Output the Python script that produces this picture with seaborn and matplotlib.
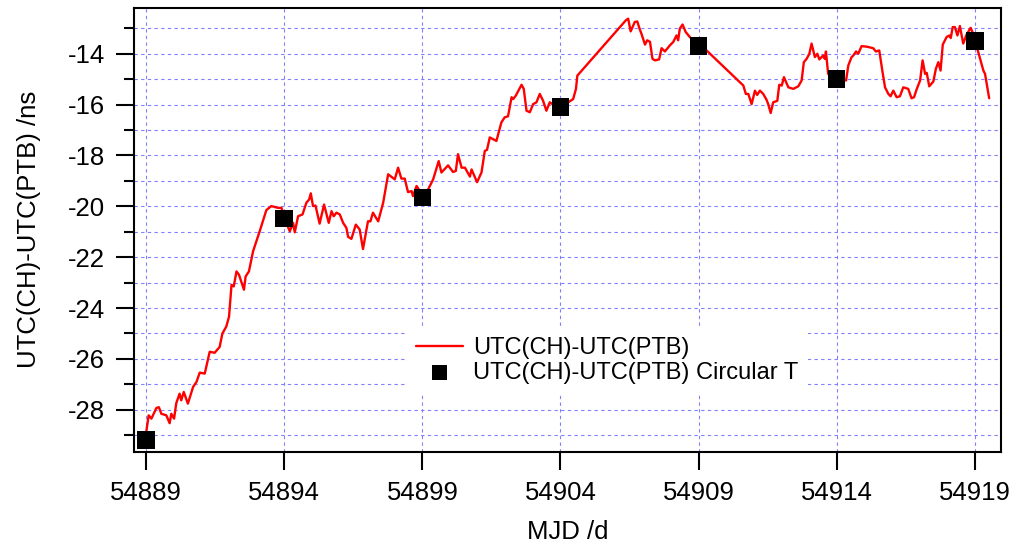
import seaborn as sns
import matplotlib.pyplot as plt
import pandas as pd

# UTC(CH)-UTC(PTB) continuous comparison (MJD, ns)
mjd = [54889.00, 54889.09, 54889.19, 54889.37, 54889.46, 54889.55, 54889.73, 54889.85, 54889.91, 54890.01,
       54890.09, 54890.21, 54890.27, 54890.36, 54890.51, 54890.70, 54890.82, 54890.94, 54891.12, 54891.30,
       54891.48, 54891.66, 54891.76, 54891.90, 54892.00, 54892.09, 54892.17, 54892.27, 54892.36, 54892.54,
       54892.60, 54892.72, 54892.87, 54893.11, 54893.35, 54893.53, 54893.77, 54893.90, 54893.95, 54894.05,
       54894.20, 54894.32, 54894.38, 54894.50, 54894.66, 54894.80, 54894.90, 54894.96, 54895.04, 54895.13,
       54895.28, 54895.44, 54895.61, 54895.71, 54895.79, 54895.89, 54896.01, 54896.13, 54896.25, 54896.31,
       54896.43, 54896.59, 54896.73, 54896.85, 54897.03, 54897.12, 54897.21, 54897.40, 54897.58, 54897.76,
       54898.00, 54898.12, 54898.24, 54898.36, 54898.48, 54898.61, 54898.66, 54898.79, 54898.91, 54899.01,
       54899.21, 54899.39, 54899.59, 54899.69, 54899.93, 54900.11, 54900.21, 54900.29, 54900.42, 54900.54,
       54900.72, 54900.78, 54900.98, 54901.14, 54901.26, 54901.34, 54901.44, 54901.68, 54901.86, 54901.98,
       54902.10, 54902.23, 54902.29, 54902.38, 54902.59, 54902.67, 54902.77, 54902.89, 54903.01, 54903.13,
       54903.25, 54903.37, 54903.49, 54903.61, 54903.80, 54904.28, 54904.46, 54904.56, 54904.61, 54906.37,
       54906.45, 54906.54, 54906.69, 54906.78, 54906.87, 54906.93, 54907.06, 54907.14, 54907.24, 54907.33,
       54907.42, 54907.57, 54907.66, 54907.78, 54907.96, 54908.08, 54908.20, 54908.26, 54908.32, 54908.42,
       54908.53, 54908.68, 54909.00, 54909.29, 54910.62, 54910.71, 54910.80, 54910.92, 54911.04, 54911.12,
       54911.22, 54911.34, 54911.46, 54911.52, 54911.61, 54911.70, 54911.85, 54911.92, 54912.01, 54912.09,
       54912.25, 54912.43, 54912.61, 54912.73, 54912.81, 54912.91, 54913.01, 54913.09, 54913.21, 54913.30,
       54913.37, 54913.51, 54913.57, 54913.61, 54913.69, 54914.00, 54914.34, 54914.42, 54914.54, 54914.60,
       54914.70, 54914.78, 54914.90, 54915.08, 54915.32, 54915.42, 54915.54, 54915.66, 54915.75, 54915.87,
       54915.95, 54916.05, 54916.17, 54916.29, 54916.41, 54916.59, 54916.71, 54916.80, 54916.90, 54917.02,
       54917.11, 54917.20, 54917.26, 54917.35, 54917.50, 54917.59, 54917.68, 54917.76, 54917.84, 54917.98,
       54918.08, 54918.13, 54918.20, 54918.28, 54918.37, 54918.46, 54918.58, 54918.70, 54918.85, 54918.94,
       54919.16, 54919.31, 54919.37, 54919.52]
diff_ns = [-28.90, -28.22, -28.35, -27.93, -27.90, -28.16, -28.22, -28.53, -28.16, -28.35,
           -27.74, -27.37, -27.63, -27.30, -27.76, -27.10, -26.91, -26.54, -26.58, -25.72,
           -25.76, -25.53, -25.00, -24.73, -24.34, -23.09, -23.15, -22.56, -22.69, -23.28,
           -22.76, -22.56, -21.77, -20.98, -20.15, -19.99, -20.06, -20.06, -20.25, -20.60,
           -20.98, -20.65, -21.02, -20.39, -20.32, -19.86, -19.73, -19.49, -19.99, -19.97,
           -20.68, -19.93, -20.65, -20.19, -20.39, -20.25, -20.32, -20.65, -20.85, -21.20,
           -21.28, -20.72, -20.91, -21.68, -20.59, -20.59, -20.25, -20.59, -19.86, -18.74,
           -18.94, -18.48, -18.91, -18.91, -19.44, -19.40, -19.60, -19.20, -19.40, -19.70,
           -19.33, -18.94, -18.22, -18.67, -18.39, -18.65, -18.61, -17.95, -18.48, -18.48,
           -18.83, -18.55, -19.05, -18.67, -17.82, -17.78, -17.29, -17.43, -16.70, -16.50,
           -16.46, -15.71, -15.78, -15.65, -15.22, -15.38, -16.24, -16.30, -15.98, -15.91,
           -15.58, -15.85, -16.24, -15.91, -16.05, -15.91, -15.78, -15.38, -14.86, -12.68,
           -12.62, -13.12, -12.75, -12.73, -13.04, -13.21, -13.64, -13.47, -13.53, -14.20,
           -14.26, -14.22, -13.78, -13.91, -13.67, -13.54, -13.28, -13.47, -13.01, -12.85,
           -13.14, -13.34, -13.65, -13.87, -15.25, -15.58, -15.58, -15.98, -15.45, -15.62,
           -15.45, -15.58, -15.81, -15.98, -16.33, -15.91, -15.85, -15.22, -15.25, -14.92,
           -15.32, -15.38, -15.28, -15.05, -14.33, -14.20, -14.00, -13.60, -14.13, -14.00,
           -14.22, -14.07, -14.20, -13.91, -14.79, -15.00, -15.05, -14.46, -14.13, -14.07,
           -13.91, -14.00, -13.70, -13.72, -13.78, -13.91, -13.87, -14.72, -15.32, -15.58,
           -15.67, -15.45, -15.71, -15.67, -15.32, -15.38, -15.75, -15.71, -15.38, -15.05,
           -14.26, -14.79, -14.75, -15.28, -15.09, -14.59, -14.33, -14.66, -13.64, -13.34,
           -13.28, -13.38, -12.95, -12.95, -13.28, -12.91, -13.60, -13.25, -12.98, -13.21,
           -14.07, -14.66, -14.79, -15.75]

# Circular T values (every 5 days)
circt_mjd = [54889, 54894, 54899, 54904, 54909, 54914, 54919]
circt_ns = [-29.20, -20.48, -19.65, -16.10, -13.70, -15.00, -13.50]

line_df = pd.DataFrame({"MJD": mjd, "diff": diff_ns})
circt_df = pd.DataFrame({"MJD": circt_mjd, "diff": circt_ns})

sns.set_style("white")
plt.rcParams['font.family'] = ['Liberation Sans', 'DejaVu Sans']
plt.rcParams['axes.unicode_minus'] = False
plt.rcParams['text.color'] = 'black'
plt.rcParams['axes.labelcolor'] = 'black'

fig = plt.figure(figsize=(10.13, 5.44), dpi=100)
ax = fig.add_axes([0.1323, 0.1697, 0.8559, 0.8156])

sns.lineplot(x="MJD", y="diff", data=line_df, color="red", linewidth=1.7,
             sort=False, estimator=None, label="UTC(CH)-UTC(PTB)", ax=ax, zorder=3)
sns.scatterplot(x="MJD", y="diff", data=circt_df, color="black", marker="s", s=160,
                edgecolor="none", label="UTC(CH)-UTC(PTB) Circular T", ax=ax, zorder=4)

ax.set_xlim(54888.56, 54919.95)
ax.set_ylim(-29.65, -12.2)
ax.set_xticks(range(54889, 54920, 5))
ax.set_yticks(range(-28, -13, 2))
ax.set_yticks(range(-29, -12, 2), minor=True)

ax.grid(True, axis="y", which="both", color="#8080ff", linestyle=(0, (3, 3)), linewidth=0.8)
ax.grid(True, axis="x", which="major", color="#8080ff", linestyle=(0, (3, 3)), linewidth=0.8)

for sp in ax.spines.values():
    sp.set_visible(True)
    sp.set_color("black")
    sp.set_linewidth(1.5)

ax.tick_params(axis="both", which="major", direction="out", length=13, width=1.5,
               labelsize=18.5, pad=8, left=True, bottom=True, colors="black")
ax.tick_params(axis="y", which="minor", direction="out", length=7, width=1.5, left=True, colors="black")

ax.set_xlabel("MJD /d", fontsize=18.5, color="black")
ax.set_ylabel("UTC(CH)-UTC(PTB) /ns", fontsize=18.5, color="black")
ax.xaxis.set_label_coords(0.5, -0.155)
ax.yaxis.set_label_coords(-0.107, 0.5)

leg = ax.legend(loc="upper left", bbox_to_anchor=(0.314, 0.279), borderaxespad=0,
                fontsize=17, frameon=True, fancybox=False, framealpha=1,
                facecolor="white", edgecolor="none", handlelength=2.0,
                handletextpad=0.42, labelspacing=0.1, markerscale=0.82)
for t in leg.get_texts():
    t.set_color("black")

plt.savefig("out.png", dpi=100)
